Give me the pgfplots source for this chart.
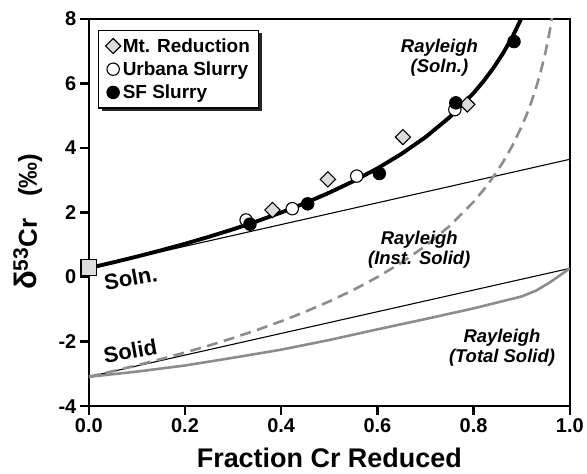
\documentclass[border=0pt]{standalone}
\usepackage{fontspec}
\setmainfont{Liberation Sans}
\usepackage{pgfplots}
\pgfplotsset{compat=1.18}
\usetikzlibrary{shadows}

\definecolor{curvegray}{HTML}{8C8C8C}
\definecolor{markgray}{HTML}{DCDCDC}

% Rayleigh model, solution pool and instantaneous solid
\pgfplotstableread{
F     soln
0.00  0.280
0.05  0.453
0.10  0.635
0.15  0.828
0.20  1.032
0.25  1.249
0.30  1.482
0.35  1.732
0.40  2.001
0.45  2.295
0.50  2.616
0.55  2.971
0.60  3.368
0.65  3.818
0.70  4.337
0.75  4.952
0.80  5.704
0.82  6.059
0.84  6.456
0.86  6.906
0.88  7.425
0.90  8.040
0.91  8.395
}\solncurve

\pgfplotstableread{
F     inst
0.00  -3.090
0.05  -2.917
0.10  -2.735
0.15  -2.542
0.20  -2.338
0.25  -2.121
0.30  -1.888
0.35  -1.638
0.40  -1.369
0.45  -1.075
0.50  -0.754
0.55  -0.399
0.60  -0.002
0.65   0.448
0.70   0.967
0.75   1.582
0.80   2.334
0.82   2.689
0.84   3.086
0.86   3.536
0.88   4.055
0.90   4.670
0.91   5.025
0.92   5.422
0.93   5.872
0.94   6.391
0.95   7.006
0.96   7.758
0.97   8.727
}\instcurve

\pgfplotstableread{
F     total
0.00  -3.09
0.10  -2.93
0.20  -2.74
0.30  -2.50
0.40  -2.25
0.50  -1.95
0.60  -1.62
0.70  -1.30
0.80  -0.97
0.90  -0.60
0.93  -0.42
0.96  -0.15
1.00   0.27
}\totalcurve

% measurements
\pgfplotstableread{
F      d
0.382  2.08
0.497  3.03
0.653  4.34
0.787  5.35
}\mtred

\pgfplotstableread{
F      d
0.327  1.77
0.423  2.12
0.557  3.13
0.761  5.19
}\urbana

\pgfplotstableread{
F      d
0.335  1.64
0.455  2.27
0.604  3.21
0.763  5.40
0.884  7.30
}\sfslurry

\begin{document}
\begin{tikzpicture}
\begin{axis}[
  scale only axis,
  width=482pt, height=388pt,
  xmin=0, xmax=1, ymin=-4, ymax=8,
  xtick={0,0.2,0.4,0.6,0.8,1.0},
  ytick={-4,-2,0,2,4,6,8},
  xticklabel style={/pgf/number format/fixed,
    /pgf/number format/fixed zerofill,
    /pgf/number format/precision=1},
  /pgf/number format/assume math mode=true,
  ticklabel style={font=\fontsize{20}{20}\selectfont\bfseries},
  axis line style={line width=2.6pt},
  tick style={line width=2.4pt, black},
  major tick length=9pt,
  tick align=outside,
  xtick pos=bottom, ytick pos=left,
  xlabel={Fraction Cr Reduced},
  xlabel style={font=\fontsize{27}{27}\selectfont\bfseries,
    at={(axis description cs:0.5,-0.158)}, anchor=base},
  ylabel={{\fontsize{31}{31}\selectfont δ}\textsuperscript{\fontsize{21}{21}\selectfont 53}Cr\ \ \ (‰)},
  ylabel style={font=\fontsize{26}{26}\selectfont\bfseries,
    at={(axis description cs:-0.127,0.476)}, anchor=center},
  legend style={at={(axis description cs:0.019,0.972)}, anchor=north west,
    draw=black, line width=1.2pt, fill=white,
    font=\fontsize{19}{19}\selectfont\bfseries,
    drop shadow={shadow xshift=3pt, shadow yshift=-3pt, fill=black!85, opacity=1},
    inner xsep=7pt, inner ysep=6pt, row sep=4pt,
    /tikz/every even column/.append style={column sep=5pt}},
  legend cell align=left,
]
% straight mass-balance lines
\addplot[black, line width=1.1pt, forget plot] coordinates {(0,0.28) (1,3.65)};
\addplot[black, line width=1.1pt, forget plot] coordinates {(0,-3.09) (1,0.27)};
% Rayleigh curves
\addplot[curvegray, line width=2.6pt, forget plot] table[x=F, y=total] {\totalcurve};
\addplot[curvegray, line width=2.6pt, dash pattern=on 11pt off 6.5pt, forget plot] table[x=F, y=inst] {\instcurve};
\addplot[black, line width=3.9pt, forget plot] table[x=F, y=soln] {\solncurve};
% starting solution
\addplot[only marks, mark=square*, mark size=7.8pt,
  mark options={fill=markgray, draw=black, line width=1.1pt}, forget plot]
  coordinates {(0,0.30)};
% data
\addplot[only marks, mark=square*, mark size=5.4pt,
  mark options={rotate=45, fill=markgray, draw=black, line width=1.1pt}]
  table[x=F, y=d] {\mtred};
\addlegendentry{Mt. Reduction}
\addplot[only marks, mark=*, mark size=6.2pt,
  mark options={fill=white, draw=black, line width=1.1pt}]
  table[x=F, y=d] {\urbana};
\addlegendentry{Urbana Slurry}
\addplot[only marks, mark=*, mark size=6.2pt,
  mark options={fill=black, draw=black, line width=1.1pt}]
  table[x=F, y=d] {\sfslurry};
\addlegendentry{SF Slurry}
% curve labels
\node[font=\fontsize{18.5}{20}\selectfont\bfseries\itshape, align=center]
  at (axis cs:0.729,6.79) {Rayleigh\\(Soln.)};
\node[font=\fontsize{18.5}{20}\selectfont\bfseries\itshape, align=center]
  at (axis cs:0.687,0.84) {Rayleigh\\(Inst. Solid)};
\node[font=\fontsize{18.5}{20}\selectfont\bfseries\itshape, align=center]
  at (axis cs:0.859,-2.19) {Rayleigh\\(Total Solid)};
\node[font=\fontsize{22}{22}\selectfont\bfseries, rotate=10]
  at (axis cs:0.087,-0.03) {Soln.};
\node[font=\fontsize{22}{22}\selectfont\bfseries, rotate=10]
  at (axis cs:0.086,-2.28) {Solid};
\end{axis}
\path ([shift={(-89pt,-67pt)}]current axis.south west)
  rectangle ([shift={(16pt,19pt)}]current axis.north east);
\end{tikzpicture}
\end{document}
